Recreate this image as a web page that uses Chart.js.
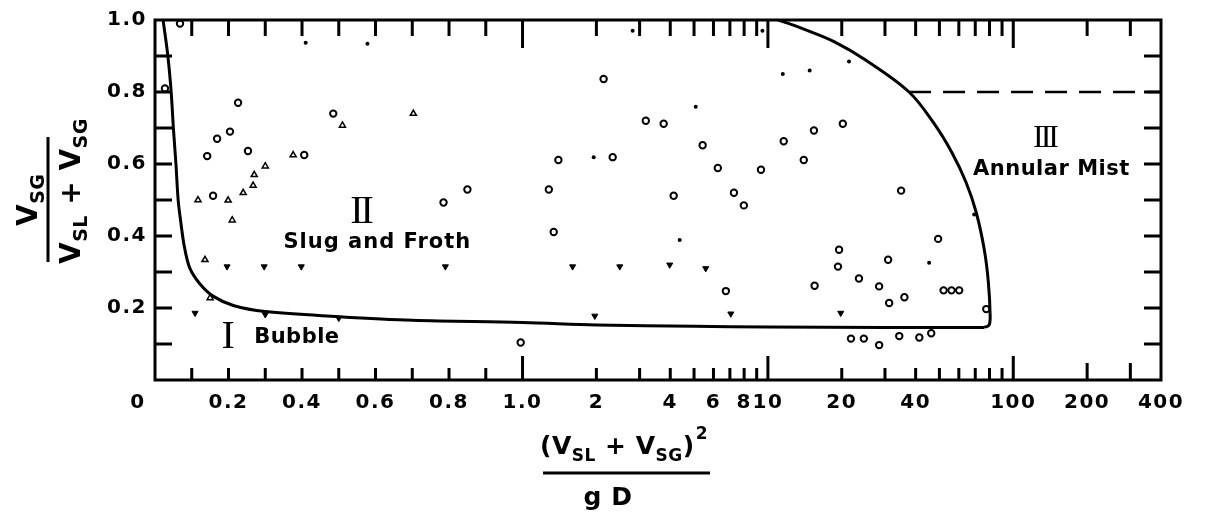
<!DOCTYPE html>
<html>
<head>
<meta charset="utf-8">
<script src="https://cdn.jsdelivr.net/npm/chart.js@4.4.1/dist/chart.umd.min.js"></script>
<style>
  html, body { margin: 0; padding: 0; background: #fff; }
  #wrap { width: 1212px; height: 515px; position: relative; }
</style>
</head>
<body>
<div id="wrap"><canvas id="myChart"></canvas></div>
<script>
// x axis of the original: linear from 0 to 1, then log decades out to 400
var xTicks = [0, 0.1, 0.2, 0.3, 0.4, 0.5, 0.6, 0.7, 0.8, 0.9, 1, 2, 3, 4, 5, 6, 7, 8, 9, 10,
              20, 30, 40, 50, 60, 70, 80, 90, 100, 200, 300, 400];
var xLabels = { '0': '0    ', '0.2': '0.2', '0.4': '0.4', '0.6': '0.6', '0.8': '0.8', '1': '1.0',
                '2': '2', '4': '4', '6': '6', '8': '8', '10': '10', '20': '20', '40': '40',
                '100': '100', '200': '200', '400': '400' };
var yTicks = [0, 0.1, 0.2, 0.3, 0.4, 0.5, 0.6, 0.7, 0.8, 0.9, 1.0];

// flow regime boundaries [x, y]
var bubbleSlugLine = [[0.022, 1.0], [0.035, 0.9], [0.044, 0.8], [0.05, 0.7], [0.057, 0.6], [0.063, 0.5],
  [0.07, 0.44], [0.08, 0.37], [0.095, 0.31], [0.123, 0.266], [0.158, 0.233], [0.213, 0.207],
  [0.3, 0.19], [0.5, 0.176], [0.7, 0.166], [1.0, 0.16], [2, 0.153], [5, 0.149], [10, 0.147],
  [30, 0.146], [76, 0.146]];
var slugAnnularLine = [[76, 0.146], [79.6, 0.152], [80.5, 0.178], [79.1, 0.274], [76.1, 0.364],
  [70.6, 0.466], [64.3, 0.548], [56.4, 0.63], [47.6, 0.712], [37.6, 0.8], [25.1, 0.888],
  [18.6, 0.94], [13.6, 0.978], [11.6, 0.995], [11.0, 1.0]];
var mistLine = [[37.6, 0.8], [400, 0.8]];

// observed points
var openPoints = [[0.027, 0.81], [0.068, 0.99], [0.226, 0.77], [0.169, 0.67], [0.204, 0.69],
  [0.142, 0.622], [0.253, 0.636], [0.406, 0.625], [0.485, 0.74], [0.158, 0.512], [0.785, 0.493],
  [0.85, 0.529], [1.28, 0.529], [1.40, 0.611], [2.33, 0.619], [2.14, 0.836], [3.18, 0.72],
  [3.76, 0.712], [5.42, 0.652], [6.25, 0.589], [9.37, 0.584], [4.13, 0.512], [7.27, 0.52],
  [7.98, 0.485], [1.34, 0.411], [6.74, 0.247], [15.5, 0.262], [0.995, 0.104], [11.6, 0.663],
  [14.0, 0.611], [15.4, 0.693], [20.2, 0.712], [34.9, 0.526], [49.4, 0.392], [19.5, 0.362],
  [19.3, 0.315], [30.9, 0.334], [23.5, 0.282], [28.4, 0.26], [31.2, 0.214], [36.0, 0.23],
  [52, 0.249], [56, 0.249], [60.2, 0.249], [77.6, 0.197], [21.8, 0.115], [24.6, 0.115],
  [28.4, 0.097], [34.3, 0.122], [41.4, 0.118], [46.3, 0.13]];
var upPoints = [[0.117, 0.50], [0.199, 0.499], [0.21, 0.444], [0.24, 0.52], [0.267, 0.54],
  [0.27, 0.57], [0.30, 0.594], [0.376, 0.625], [0.51, 0.707], [0.703, 0.74], [0.136, 0.334],
  [0.15, 0.228]];
var downPoints = [[0.196, 0.315], [0.297, 0.315], [0.398, 0.315], [0.79, 0.315], [1.60, 0.315],
  [2.49, 0.315], [3.98, 0.32], [5.58, 0.31], [1.97, 0.178], [7.06, 0.184], [19.8, 0.186],
  [0.109, 0.186], [0.3, 0.182], [0.5, 0.172]];
var dotPoints = [[0.41, 0.937], [0.578, 0.934], [2.81, 0.97], [9.5, 0.97], [11.5, 0.85],
  [14.8, 0.86], [21.4, 0.885], [5.08, 0.759], [1.95, 0.619], [4.37, 0.389], [69.3, 0.46],
  [45.4, 0.326]];

// region names, placed in data units
var regionText = [
  { x: 0.559, y: 0.466, text: 'II', font: '40px "Liberation Serif"', spacing: '-3px' },
  { x: 0.605, y: 0.383, text: 'Slug and Froth', font: 'bold 21px "DejaVu Sans"', spacing: '1px' },
  { x: 0.199, y: 0.118, text: 'I', font: '40px "Liberation Serif"', spacing: '0px' },
  { x: 0.386, y: 0.118, text: 'Bubble', font: 'bold 21px "DejaVu Sans"', spacing: '0.5px' },
  { x: 134, y: 0.671, text: 'III', font: '32px "Liberation Serif"', spacing: '-3px' },
  { x: 143, y: 0.584, text: 'Annular Mist', font: 'bold 21px "DejaVu Sans"', spacing: '0.5px' }
];

var DECADE = 0.6676; // width of one log decade, in units of the 0..1 linear part
function toAxis(v) { return v <= 1 ? v : 1 + Math.log10(v) * DECADE; }
function fromAxis(u) { return u <= 1 ? u : Math.pow(10, (u - 1) / DECADE); }

class FlowScale extends Chart.Scale {
  determineDataLimits() { this.min = 0; this.max = 400; }
  buildTicks() { return xTicks.map(function (v) { return { value: v }; }); }
  getLabelForValue(v) { return String(v); }
  getPixelForValue(v) { return this.getPixelForDecimal(toAxis(v) / toAxis(this.max)); }
  getValueForPixel(p) { return fromAxis(this.getDecimalForPixel(p) * toAxis(this.max)); }
}
FlowScale.id = 'flow';
FlowScale.defaults = {};
Chart.register(FlowScale);

function pts(arr) { return arr.map(function (p) { return { x: p[0], y: p[1] }; }); }

function txt(ctx, s, x, y, font) {
  ctx.font = font;
  ctx.fillText(s, x, y);
  return x + ctx.measureText(s).width;
}

var framePlugin = {
  id: 'frame',
  beforeDraw: function (chart) { chart.ctx.letterSpacing = '1.5px'; },
  afterDraw: function (chart) {
    var ctx = chart.ctx, a = chart.chartArea, xs = chart.scales.x, ys = chart.scales.y;
    ctx.save();
    ctx.strokeStyle = '#000';
    ctx.fillStyle = '#000';
    ctx.lineWidth = 3;
    ctx.strokeRect(a.left, a.top, a.right - a.left, a.bottom - a.top);
    // inward tick marks
    ctx.beginPath();
    xs.ticks.forEach(function (t) {
      if (t.value === 0 || t.value === 400) return;
      var px = xs.getPixelForValue(t.value);
      var major = t.value === 1 || t.value === 10 || t.value === 100;
      var lb = major ? 24 : (t.value >= 200 ? 17 : 12);
      var lt = major ? 28 : 16;
      ctx.moveTo(px, a.bottom); ctx.lineTo(px, a.bottom - lb);
      ctx.moveTo(px, a.top); ctx.lineTo(px, a.top + lt);
    });
    ys.ticks.forEach(function (t) {
      if (t.value <= 0 || t.value >= 1) return;
      var py = ys.getPixelForValue(t.value);
      ctx.moveTo(a.left, py); ctx.lineTo(a.left + 17, py);
      ctx.moveTo(a.right, py); ctx.lineTo(a.right - 17, py);
    });
    ctx.stroke();

    // region names
    ctx.textAlign = 'center';
    ctx.textBaseline = 'middle';
    regionText.forEach(function (r) {
      ctx.letterSpacing = r.spacing;
      ctx.font = r.font;
      ctx.fillText(r.text, xs.getPixelForValue(r.x), ys.getPixelForValue(r.y));
    });

    // x axis title: (V_SL + V_SG)^2 / gD
    ctx.letterSpacing = '0.5px';
    ctx.textAlign = 'left';
    ctx.textBaseline = 'alphabetic';
    var big = 'bold 25px "DejaVu Sans"', sub = 'bold 17px "DejaVu Sans"', sup = 'bold 17px "DejaVu Sans"';
    var cx = (a.left + a.right) / 2 - 32, by = 454;
    var x = cx - 86;
    x = txt(ctx, '(V', x, by, big);
    x = txt(ctx, 'SL', x, by + 7, sub);
    x = txt(ctx, ' + V', x, by, big);
    x = txt(ctx, 'SG', x, by + 7, sub);
    x = txt(ctx, ')', x, by, big);
    txt(ctx, '2', x + 1, by - 15, sup);
    ctx.beginPath();
    ctx.moveTo(cx - 83, 473); ctx.lineTo(cx + 84, 473);
    ctx.stroke();
    ctx.textAlign = 'center';
    txt(ctx, 'g D', cx - 18, 505, big);

    // y axis title: V_SG / (V_SL + V_SG), rotated
    ctx.translate(48, (a.top + a.bottom) / 2);
    ctx.rotate(-Math.PI / 2);
    ctx.textAlign = 'left';
    var ybig = 'bold 28px "DejaVu Sans"', ysub = 'bold 19px "DejaVu Sans"';
    ctx.beginPath();
    ctx.moveTo(-62, 0); ctx.lineTo(63, 0);
    ctx.stroke();
    var u = -26;
    u = txt(ctx, 'V', u, -11, ybig);
    txt(ctx, 'SG', u, -4, ysub);
    u = -64;
    u = txt(ctx, 'V', u, 32, ybig);
    u = txt(ctx, 'SL', u, 39, ysub);
    u = txt(ctx, ' + V', u, 32, ybig);
    txt(ctx, 'SG', u, 39, ysub);
    ctx.restore();
  }
};

var ctx = document.getElementById('myChart').getContext('2d');

var lineStyle = { type: 'line', borderColor: '#000', borderWidth: 3, pointRadius: 0,
                  fill: false, tension: 0.35 };

var mychart = new Chart(ctx, {
  type: 'scatter',
  data: {
    datasets: [
      Object.assign({ label: 'Bubble / Slug', data: pts(bubbleSlugLine) }, lineStyle),
      Object.assign({ label: 'Slug / Annular', data: pts(slugAnnularLine) }, lineStyle),
      { type: 'line', label: 'Mist', data: pts(mistLine), borderColor: '#000', borderWidth: 2.5,
        borderDash: [22, 12], pointRadius: 0, fill: false },
      { label: 'open', data: pts(openPoints), pointStyle: 'circle', pointRadius: 3.2,
        borderWidth: 2, borderColor: '#000', backgroundColor: '#fff' },
      { label: 'up', data: pts(upPoints), pointStyle: 'triangle', pointRadius: 3.5,
        borderWidth: 1.5, borderColor: '#000', backgroundColor: '#fff' },
      { label: 'down', data: pts(downPoints), pointStyle: 'triangle', rotation: 180, pointRadius: 3.5,
        borderWidth: 1, borderColor: '#000', backgroundColor: '#000' },
      { label: 'dot', data: pts(dotPoints), pointStyle: 'circle', pointRadius: 2,
        borderWidth: 0, backgroundColor: '#000' }
    ]
  },
  options: {
    responsive: true,
    maintainAspectRatio: false,
    animation: false,
    layout: { padding: { left: 0, right: 51, top: 17, bottom: 0 } },
    plugins: { legend: { display: false }, tooltip: { enabled: false } },
    scales: {
      x: {
        type: 'flow',
        position: 'bottom',
        grid: { display: false, drawTicks: false },
        border: { display: false },
        ticks: {
          autoSkip: false, maxRotation: 0, padding: 11, color: '#000',
          font: { family: 'DejaVu Sans', size: 20, weight: 'bold' },
          callback: function (v) { return xLabels[String(v)] || ''; }
        },
        afterFit: function (s) { s.height = 135; }
      },
      y: {
        type: 'linear',
        min: 0, max: 1,
        grid: { display: false, drawTicks: false },
        border: { display: false },
        afterBuildTicks: function (s) { s.ticks = yTicks.map(function (v) { return { value: v }; }); },
        ticks: {
          autoSkip: false, padding: 8, color: '#000',
          font: { family: 'DejaVu Sans', size: 20, weight: 'bold' },
          callback: function (v) {
            var k = Math.round(v * 10);
            return (k > 0 && k % 2 === 0) ? v.toFixed(1) : '';
          }
        },
        afterFit: function (s) { s.width = 155; }
      }
    }
  },
  plugins: [framePlugin]
});
</script>
</body>
</html>
